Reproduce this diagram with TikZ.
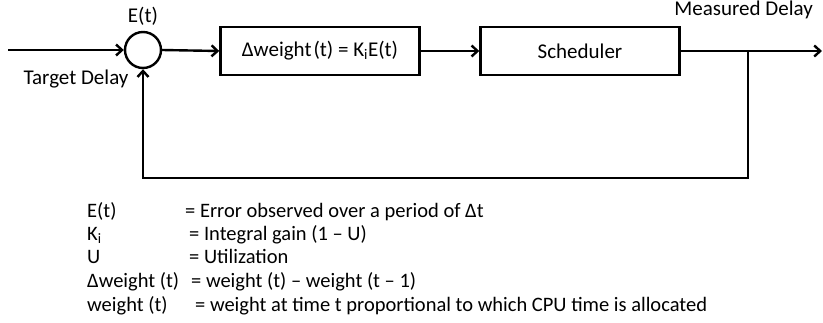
\documentclass[tikz,border=0pt]{standalone}
\usepackage{fontspec}
\setmainfont{Carlito}
\usetikzlibrary{arrows.meta}
\begin{document}
\begin{tikzpicture}[x=1pt,y=-1pt,
  line width=2.4pt,
  every node/.style={font=\fontsize{21}{24}\selectfont, inner sep=0pt},
  blockbox/.style={draw, minimum width=199pt, minimum height=48pt},
  sumjunction/.style={draw, circle, minimum size=36pt},
  flow/.style={-{Straight Barb[length=6pt,width=11pt,line width=2.4pt]}},
  legendkey/.style={anchor=base west, font=\fontsize{20.5}{24}\selectfont},
  legendval/.style={anchor=base west, font=\fontsize{20.5}{24}\selectfont}]
  \useasboundingbox (0,0) rectangle (823,322);

  % blocks of the loop
  \node[sumjunction] (sum) at (143,50) {};
  \node[blockbox] (ctrl) at (320,51) {Δweight\kern2pt(t) = K\textsubscript{i}E(t)};
  \node[blockbox] (sched) at (580,51) {Scheduler};

  % free ends and corners
  \coordinate (in) at (8,50);
  \coordinate (out) at (822,51);
  \coordinate (tap) at (748,51);
  \coordinate (fbR) at (748,178);
  \coordinate (fbL) at (143,178);

  % forward path
  \draw[flow] (in) -- (sum.west);
  \draw[flow] (sum.east) -- (ctrl.west);
  \draw[flow] (ctrl.east) -- (sched.west);
  \draw[flow] (sched.east) -- (out);

  % feedback path
  \draw[flow] (tap) -- (fbR) -- (fbL) -- (sum.south);

  % signal labels
  \node (elabel) at (143,16) {E(t)};
  \node (tlabel) at (76,79) {Target Delay};
  \node[anchor=east] (mlabel) at (814,10) {Measured Delay};

  % legend
  \node[legendkey] (k1) at (86,217) {E(t)};
  \node[legendkey] (k2) at (86,240) {K\textsubscript{i}};
  \node[legendkey] (k3) at (86,263) {U};
  \node[legendkey] (k4) at (86,287) {Δweight (t)};
  \node[legendkey] (k5) at (86,311) {weight (t)};
  \node[legendval] (v1) at (184,217) {= Error observed over a period of Δt};
  \node[legendval] (v2) at (188,240) {= Integral gain (1 – U)};
  \node[legendval] (v3) at (188,263) {= Utilization};
  \node[legendval] (v4) at (190,287) {= weight (t) – weight (t – 1)};
  \node[legendval] (v5) at (194,311) {= weight at time t proportional to which CPU time is allocated};
\end{tikzpicture}
\end{document}
